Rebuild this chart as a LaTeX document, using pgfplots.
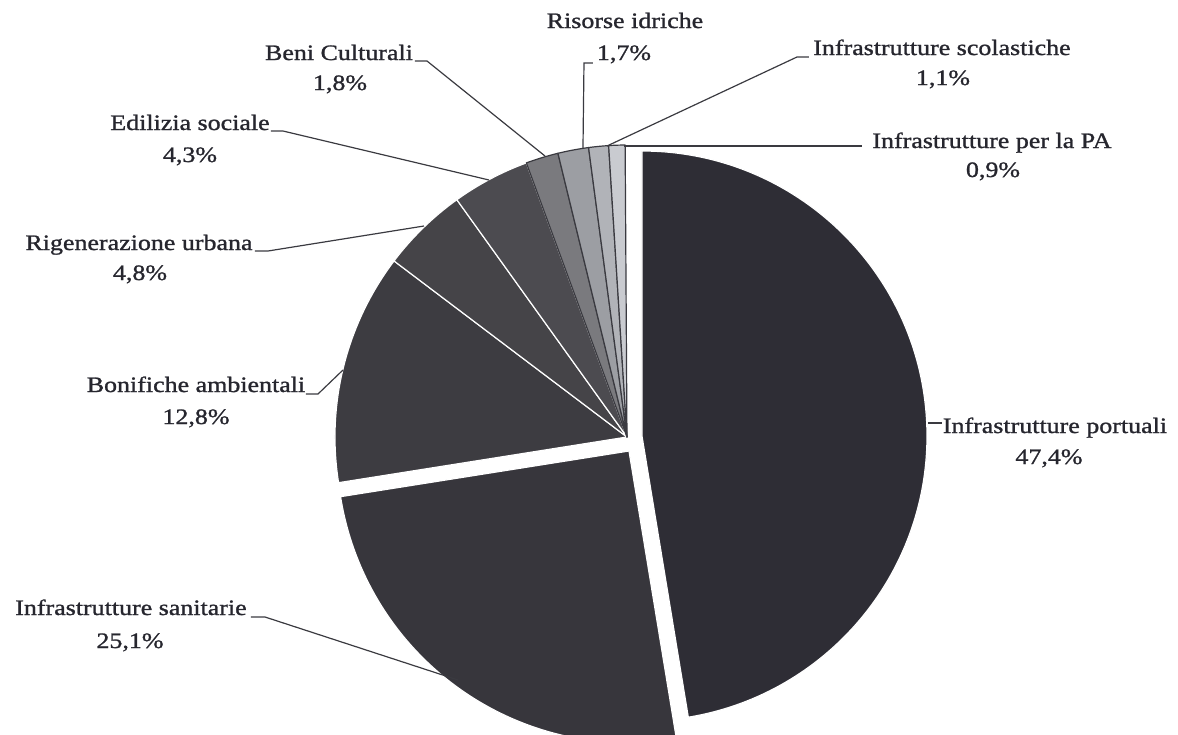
\documentclass[border=0pt]{standalone}
\usepackage{pgfplots}
\pgfplotsset{compat=1.18}
\usepackage{pgfplotstable}
\usepackage{fontspec}
\setmainfont{Liberation Serif}[FakeStretch=1.18, FakeBold=1.2]
\definecolor{c0}{HTML}{2E2D35}
\definecolor{c1}{HTML}{37363C}
\definecolor{c2}{HTML}{3D3C41}
\definecolor{c3}{HTML}{454448}
\definecolor{c4}{HTML}{4C4B50}
\definecolor{c5}{HTML}{7A7A7E}
\definecolor{c6}{HTML}{9C9EA3}
\definecolor{c7}{HTML}{B1B3B8}
\definecolor{c8}{HTML}{C9CBD0}
\definecolor{txt}{HTML}{26262E}
\definecolor{ld}{HTML}{3A3A40}

% value in %, shift (dx, dy) and radius in px
\pgfplotstableread{
label value dx dy radius fillc drawc
portuali 47.4 15 1 285 c0 white
sanitarie 25.1 2 -14 292 c1 white
bonifiche 12.8 0 0 292 c2 white
rigenerazione 4.8 0 0 292 c3 white
edilizia 4.3 0 0 292 c4 white
beni 1.8 0 0 292 c5 ld
risorse 1.7 0 0 292 c6 ld
scolastiche 1.1 0 0 292 c7 ld
pa 0.9 0 0 292 c8 ld
}\piedata

\begin{document}
\begin{tikzpicture}[every node/.append style={font=\fontsize{11bp}{13bp}\selectfont, text=txt, inner sep=0pt}]
\begin{axis}[x=0.5bp, y=0.5bp, xmin=0, xmax=1178, ymin=0, ymax=735,
  hide axis, clip=false]
\def\cum{0}
\pgfplotsforeachungrouped \i in {0,...,8}{%
  \pgfplotstablegetelem{\i}{value}\of\piedata \let\v\pgfplotsretval
  \pgfplotstablegetelem{\i}{dx}\of\piedata \let\ddx\pgfplotsretval
  \pgfplotstablegetelem{\i}{dy}\of\piedata \let\ddy\pgfplotsretval
  \pgfplotstablegetelem{\i}{radius}\of\piedata \let\r\pgfplotsretval
  \pgfplotstablegetelem{\i}{fillc}\of\piedata \let\fc\pgfplotsretval
  \pgfplotstablegetelem{\i}{drawc}\of\piedata \let\dc\pgfplotsretval
  \pgfmathsetmacro{\sa}{90-3.6*\cum}%
  \pgfmathsetmacro{\ea}{90-3.6*(\cum+\v)}%
  \pgfmathsetmacro{\cx}{627+\ddx}%
  \pgfmathsetmacro{\cy}{298+\ddy}%
  \pgfmathsetmacro{\rr}{0.5*\r}%
  \edef\temp{\noexpand\filldraw[fill=\fc, draw=\dc, line width=0.6pt, line join=round] (axis cs:\cx,\cy) -- ++(\sa:\rr bp) arc[start angle=\sa, end angle=\ea, radius=\rr bp] -- cycle;}%
  \temp
  \pgfmathsetmacro{\cum}{\cum+\v}%
}

% leader lines
\draw[ld, line width=0.6pt] (axis cs:928,312) -- (axis cs:942,312);
\draw[ld, line width=0.6pt] (axis cs:251,118) -- (axis cs:265,118) -- (axis cs:458,55);
\draw[ld, line width=0.6pt] (axis cs:306,341) -- (axis cs:318,341) -- (axis cs:343,365);
\draw[ld, line width=0.6pt] (axis cs:255,484) -- (axis cs:268,484) -- (axis cs:424,509);
\draw[ld, line width=0.6pt] (axis cs:271,604) -- (axis cs:283,604) -- (axis cs:489,555);
\draw[ld, line width=0.6pt] (axis cs:415,674) -- (axis cs:427,674) -- (axis cs:545,579);
\draw[ld, line width=0.6pt] (axis cs:593,672) -- (axis cs:584,672) -- (axis cs:583,587);
\draw[ld, line width=0.6pt] (axis cs:809,678) -- (axis cs:797,678) -- (axis cs:607,589);
\draw[ld, line width=0.6pt] (axis cs:624,589) -- (axis cs:862,589);

% labels
\node[anchor=base] at (axis cs:1055,302) {Infrastrutture portuali};
\node[anchor=base] at (axis cs:1049,271) {47,4\%};
\node[anchor=base] at (axis cs:131,120) {Infrastrutture sanitarie};
\node[anchor=base] at (axis cs:130,87) {25,1\%};
\node[anchor=base] at (axis cs:196,343) {Bonifiche ambientali};
\node[anchor=base] at (axis cs:196,311) {12,8\%};
\node[anchor=base] at (axis cs:139,485) {Rigenerazione urbana};
\node[anchor=base] at (axis cs:140,455) {4,8\%};
\node[anchor=base] at (axis cs:190,605) {Edilizia sociale};
\node[anchor=base] at (axis cs:190,573) {4,3\%};
\node[anchor=base] at (axis cs:339,675) {Beni Culturali};
\node[anchor=base] at (axis cs:340,645) {1,8\%};
\node[anchor=base] at (axis cs:625,707) {Risorse idriche};
\node[anchor=base] at (axis cs:624,675) {1,7\%};
\node[anchor=base] at (axis cs:942,680) {Infrastrutture scolastiche};
\node[anchor=base] at (axis cs:943,650) {1,1\%};
\node[anchor=base] at (axis cs:992,587) {Infrastrutture per la PA};
\node[anchor=base] at (axis cs:993,558) {0,9\%};
\end{axis}
\pgfresetboundingbox
\useasboundingbox (0,0) rectangle (589bp,367.5bp);
\end{tikzpicture}
\end{document}
